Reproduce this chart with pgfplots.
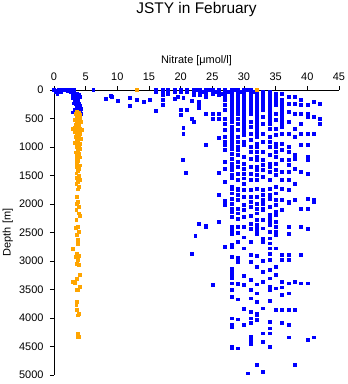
\documentclass[border=0pt]{standalone}
\usepackage{fontspec}
\setmainfont{Liberation Sans}
\usepackage{pgfplots}
\usepackage{pgfplotstable}
\pgfplotsset{compat=1.18}
\definecolor{myblue}{RGB}{0,0,255}
\definecolor{myorange}{RGB}{255,165,0}

\pgfplotstableread{
x y
0 0
0.3 10
0.6 20
0.2 40
0.8 0
1.0 30
0.5 60
1.2 0
1.6 0
2.0 0
2.4 0
2.8 0
3.2 0
2.2 20
2.6 30
2.9 50
3.0 80
3.2 100
3.4 120
3.6 150
3.3 170
3.8 190
3.5 210
3.9 230
3.4 250
3.7 270
3.5 290
3.9 310
3.6 330
3.3 350
4.0 360
3.0 390
3.7 400
4.3 410
3.5 430
2.7 20
3.0 40
3.6 60
3.9 80
4.1 120
3.0 140
4.0 270
3.1 230
4.2 330
6.2 0
8.2 146
9.1 117
8.9 100
10 187
12 128
12 275
13.1 164
14.1 199
15.1 175
16.1 29
16.1 363
16 0
17.2 0
17.2 29
17.2 58
17.2 88
17.2 175
17.2 263
18 58
18 0
19 146
19 0
19 29
19.5 117
20.4 128
20 0
20 29
20 351
20 439
21 0
21 29
21 351
21.8 193
21.8 497
22 555
22 0
22 29
22 88
22.5 0
22.8 250
22.8 310
22.9 205
23 0
23 29
23 58
23 88
23.5 29
24 0
24 29
24 58
24 117
24.5 0
25 0
25 29
25 58
25.5 29
26.5 58
27.5 29
28.5 0
29.5 29
30.5 0
31.5 29
24 409
24 965
25 409
25 497
20.4 660
20.4 772
20.3 1228
20.8 1450
22.9 2350
23.9 2397
24 2385
22.3 2560
21.8 2877
25 3420
30.6 4970
26 0
26 29
26 88
26 409
26 497
26 830
26 1444
26 1842
26 2310
27 0
27 29
27 58
27 88
27 117
27 146
27 175
27 263
27 351
27 497
27 585
27 702
27 819
27 906
27 965
27 1053
27 1257
27 1374
27 1608
27 1945
27 2017
27 2748
28 0
28 29
28 58
28 88
28 117
28 146
28 175
28 205
28 234
28 263
28 292
28 322
28 351
28 380
28 409
28 439
28 468
28 497
28 555
28 643
28 702
28 731
28 760
28 789
28 848
28 906
28 965
28 1023
28 1111
28 1199
28 1286
28 1345
28 1403
28 1491
28 1549
28 1696
28 1725
28 1812
28 1900
28 1988
28 2076
28 2134
28 2222
28 2397
28 2455
28 2514
28 2718
28 2748
28 2923
28 3128
28 3186
28 3245
28 3303
28 3391
28 3508
28 3625
28 4005
28 4122
28 4151
28 4502
28 4531
29 0
29 29
29 58
29 88
29 117
29 146
29 175
29 205
29 234
29 263
29 292
29 322
29 351
29 380
29 409
29 497
29 585
29 702
29 819
29 906
29 994
29 1053
29 1140
29 1257
29 1345
29 1462
29 1579
29 1725
29 1754
29 1842
29 1930
29 2076
29 2163
29 2251
29 2397
29 2502
29 2660
29 2935
29 3011
29 3402
29 3671
29 4022
29 4531
30 0
30 29
30 58
30 88
30 117
30 146
30 175
30 205
30 234
30 263
30 292
30 322
30 351
30 380
30 409
30 439
30 468
30 497
30 526
30 555
30 585
30 614
30 643
30 672
30 702
30 731
30 760
30 789
30 906
30 965
30 1170
30 1286
30 1374
30 1462
30 1549
30 1637
30 1754
30 1871
30 2017
30 2105
30 2222
30 2397
30 2584
30 2777
30 3262
30 3420
30 3841
30 4122
31 0
31 29
31 58
31 88
31 117
31 146
31 175
31 205
31 234
31 263
31 292
31 322
31 351
31 380
31 409
31 555
31 643
31 760
31 877
31 994
31 1082
31 1199
31 1345
31 1462
31 1579
31 1754
31 1871
31 1959
31 2046
31 2207
31 2339
31 2427
31 2660
31 2894
31 3011
31 3332
31 3508
31 3654
31 3888
31 4005
31 4081
31 4326
31 4385
31 4455
32 0
32 29
32 58
32 88
32 117
32 146
32 175
32 205
32 234
32 263
32 292
32 322
32 351
32 380
32 409
32 439
32 468
32 497
32 526
32 555
32 585
32 614
32 643
32 672
32 702
32 731
32 760
32 789
32 819
32 936
32 994
32 1082
32 1170
32 1228
32 1345
32 1403
32 1491
32 1579
32 1725
32 1871
32 1988
32 2076
32 2163
32 2280
32 2368
32 2426
32 2455
32 2514
32 2911
32 3098
32 3408
32 3566
32 3712
32 3917
32 3946
32 4034
32 4823
33 29
33 58
33 88
33 117
33 146
33 175
33 205
33 234
33 263
33 292
33 322
33 351
33 468
33 585
33 760
33 906
33 1082
33 1228
33 1316
33 1403
33 1520
33 1754
33 1842
33 1930
33 1988
33 2076
33 2104
33 2280
33 2426
33 2601
33 2660
33 3000
33 3186
33 3362
33 3829
33 4268
33 4414
33 4940
34 29
34 88
34 117
34 146
34 175
34 205
34 234
34 263
34 292
34 322
34 351
34 380
34 409
34 439
34 468
34 497
34 526
34 555
34 585
34 672
34 819
34 906
34 994
34 1140
34 1286
34 1345
34 1433
34 1579
34 1725
34 1842
34 1900
34 2046
34 2193
34 2250
34 2280
34 2339
34 2368
34 2484
34 2601
34 2689
34 2777
34 2865
34 2981
34 3157
34 3303
34 3449
34 3508
34 3695
34 4063
34 4180
34 4268
34 4502
35 58
35 88
35 117
35 146
35 175
35 205
35 234
35 263
35 409
35 526
35 672
35 789
35 936
35 994
35 1082
35 1170
35 1286
35 1403
35 1491
35 1696
35 1812
35 1930
35 2017
35 2134
35 2193
35 2309
35 2397
35 2484
35 2543
35 2777
35 3098
35 3245
35 3478
35 3858
36 58
36 175
36 205
36 234
36 263
36 292
36 322
36 351
36 380
36 409
36 439
36 468
36 497
36 526
36 555
36 585
36 643
36 760
36 936
36 1053
36 1228
36 1433
36 1579
36 1725
36 1930
36 2105
36 2894
36 2981
36 3362
36 3461
36 3595
36 3858
36 4081
37 117
37 234
37 380
37 555
37 760
37 994
37 1082
37 1228
37 1316
37 1433
37 1579
37 1754
37 1958
37 1987
37 2397
37 2514
37 2894
37 2981
37 3391
37 3566
37 3858
37 4122
37 4338
38 117
38 234
38 409
38 672
38 819
38 1140
38 1199
38 1374
38 1637
38 1929
38 3362
38 3858
38 4823
39 175
39 263
39 409
39 585
39 760
39 965
39 1433
39 2076
39 2397
39 2894
39 3391
40 263
40 409
40 468
40 760
40 965
40 1170
40 1228
40 1462
40 1900
40 2076
40 2427
40 3391
40 4385
41 205
41 468
41 760
41 1930
41 1959
41 4338
42 234
42 497
42 585
}\bluedata

\pgfplotstableread{
x y
3.6 380
3.9 400
3.4 420
4.1 440
3.7 460
3.5 480
4.0 500
3.3 520
3.8 540
4.2 560
3.6 580
3.4 600
3.9 620
3.7 640
3.2 660
4.0 680
3.5 700
3.8 720
3.3 740
4.1 760
3.6 780
3.9 800
3.4 820
3.7 840
4.2 860
3.5 880
3.8 900
3.3 920
4.0 940
3.6 960
3.9 980
3.5 1000
4.1 1030
3.7 1060
3.4 1090
3.9 1120
3.6 1150
4.0 1180
3.5 1210
3.8 1240
3.6 1280
4.0 1320
3.5 1350
3.9 1380
3.7 1420
3.5 1460
3.9 1500
3.6 1540
4.0 1570
3.8 1610
3.5 1650
3.9 1700
3.7 1740
4.4 690
2.9 680
3.6 1871
3.8 1960
3.6 1988
3.9 2046
3.5 2105
3.9 2163
4.0 2200
3.5 2280
3.7 2397
3.4 2420
3.9 2485
3.6 2544
3.8 2631
3.8 2690
3.0 2778
3.6 2866
3.9 2900
3.4 2924
3.8 2982
3.6 3041
3.9 3070
4.0 3245
3.6 3304
3.0 3362
3.3 3380
4.0 3450
3.6 3497
3.8 3500
3.6 3713
3.5 3771
3.6 3859
3.9 3918
3.8 3950
3.8 4269
3.7 4328
3.9 4330
13 0
32 0
}\orangedata

\begin{document}
\begin{tikzpicture}
\path[use as bounding box] (-54bp,-9bp) rectangle (294bp,375bp);
\begin{axis}[
  at={(0,0)}, anchor=south west,
  width=285bp, height=285bp, scale only axis,
  xmin=0, xmax=45, ymin=0, ymax=5000, y dir=reverse,
  axis x line*=top, axis y line*=left,
  axis line style={line width=0.8bp, -},
  tick align=outside, major tick length=4bp,
  tick style={black, line width=0.8bp},
  xtick={0,5,...,45}, ytick={0,500,...,5000},
  /pgf/number format/assume math mode=true,
  /pgf/number format/set thousands separator={},
  tick label style={font=\fontsize{11}{13}\selectfont},
  xticklabel style={yshift=1.5bp},
  yticklabel style={xshift=-3bp},
  clip=false,
]
\addplot[only marks, mark=square*, mark size=1.4bp, color=myblue, mark options={draw=none, fill=myblue}] table[x=x, y=y] {\bluedata};
\addplot[only marks, mark=square*, mark size=1.4bp, color=myorange, mark options={draw=none, fill=myorange}] table[x=x, y=y] {\orangedata};
\end{axis}
\node[anchor=base, font=\fontsize{15.5}{18}\selectfont] at (142.5bp,361.5bp) {JSTY in February};
\node[anchor=base, font=\fontsize{11}{13}\selectfont] at (142.5bp,311bp) {Nitrate [μmol/l]};
\node[anchor=base, rotate=90, font=\fontsize{11}{13}\selectfont] at (-43.3bp,142.5bp) {Depth [m]};
\end{tikzpicture}
\end{document}
